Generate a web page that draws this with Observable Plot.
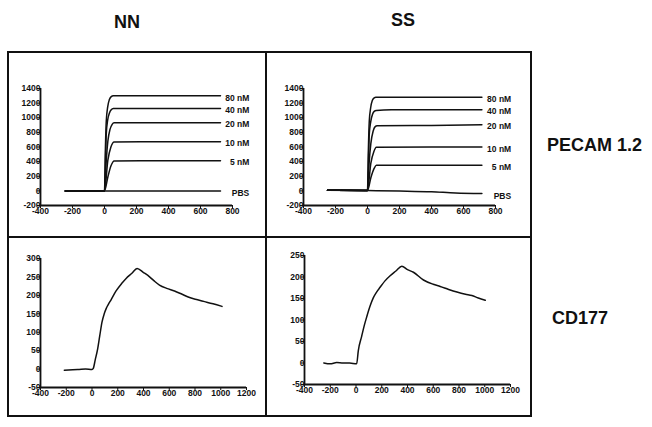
<!DOCTYPE html>
<html><head><meta charset="utf-8">
<script src="https://cdn.jsdelivr.net/npm/d3@7"></script>
<script src="https://cdn.jsdelivr.net/npm/@observablehq/plot@0.6"></script>
<style>
html,body{margin:0;padding:0;background:#fff;}
body{width:652px;height:427px;position:relative;overflow:hidden;font-family:"Liberation Sans",Arial,sans-serif;}
.cell{position:absolute;}
.cell svg{overflow:visible;display:block;}
.title{position:absolute;font-weight:bold;font-size:18px;line-height:1;white-space:nowrap;color:#111;}
.ctr{transform:translate(-50%,-50%);}
.vctr{transform:translate(0,-50%);}
.ln{position:absolute;background:#111;}
</style></head><body>
<div class="title ctr" style="left:127px;top:22px">NN</div>
<div class="title ctr" style="left:403px;top:20px">SS</div>
<div class="title vctr" style="left:547px;top:145px">PECAM 1.2</div>
<div class="title vctr" style="left:552px;top:318px">CD177</div>
<div class="ln" style="left:7px;top:51px;width:525px;height:2px"></div>
<div class="ln" style="left:7px;top:236px;width:525px;height:2px"></div>
<div class="ln" style="left:7px;top:415px;width:525px;height:2px"></div>
<div class="ln" style="left:7px;top:51px;width:2px;height:366px"></div>
<div class="ln" style="left:265px;top:51px;width:2px;height:366px"></div>
<div class="ln" style="left:530px;top:51px;width:2px;height:366px"></div>
<div id="tl" class="cell" style="left:8px;top:52px"></div>
<div id="tr" class="cell" style="left:266px;top:52px"></div>
<div id="bl" class="cell" style="left:8px;top:238px"></div>
<div id="br" class="cell" style="left:266px;top:238px"></div>
<script>
// ---- Data (time in s, response in RU) ----
const concLabels = ["80 nM", "40 nM", "20 nM", "10 nM", "5 nM", "PBS"];

// NN, PECAM 1.2
const nn80 = [[-245,0],[0,0],[5,520],[11,950],[20,1150],[30,1245],[42,1288],[55,1300],[200,1302],[400,1300],[600,1301],[725,1300]];
const nn40 = [[-245,0],[0,0],[11,780],[20,970],[31,1065],[42,1108],[55,1125],[300,1128],[725,1128]];
const nn20 = [[-245,0],[0,0],[10,380],[21,680],[35,845],[48,910],[60,930],[400,932],[725,932]];
const nn10 = [[-245,0],[0,0],[21,420],[40,600],[60,670],[400,671],[725,672]];
const nn5  = [[-245,0],[0,0],[21,190],[40,340],[60,410],[400,411],[725,412]];
const nnPBS = [[-245,0],[0,0],[300,-1],[725,-3]];
const nnLabelY = [1300, 1128, 932, 672, 412, 0];

// SS, PECAM 1.2
const ss80 = [[-250,10],[0,5],[5,520],[11,950],[20,1140],[30,1235],[42,1272],[52,1280],[400,1281],[715,1282]];
const ss40 = [[-250,10],[0,5],[11,770],[20,945],[31,1045],[42,1088],[55,1100],[150,1108],[715,1110]];
const ss20 = [[-250,10],[0,5],[10,380],[21,650],[35,815],[48,878],[60,890],[400,895],[715,905]];
const ss10 = [[-250,10],[0,5],[21,380],[40,540],[55,598],[400,600],[715,600]];
const ss5  = [[-250,10],[0,5],[21,180],[40,300],[55,350],[400,351],[715,352]];
const ssPBS = [[-250,10],[0,5],[200,-2],[400,-12],[550,-28],[715,-35]];
const ssLabelY = [1282, 1110, 905, 600, 352, -40];

// NN, CD177
const nnCD = [[-215,-3],[-150,-2],[-100,-1],[-50,0],[0,-1],[10,2],[25,25],[44,55],[60,90],[78,128],[95,150],[110,164],[128,176],[148,188],[187,212],[230,232],[265,246],[310,260],[350,273],[400,262],[434,254],[480,240],[524,228],[580,219],[641,212],[700,203],[758,194],[820,188],[875,183],[940,177],[1010,170]];
// SS, CD177
const ssCD = [[-250,0],[-200,-2],[-150,1],[-100,0],[-50,0],[5,-2],[18,29],[44,62],[65,88],[83,107],[110,133],[135,152],[160,165],[187,176],[225,191],[265,203],[310,214],[356,225],[400,217],[446,211],[524,193],[600,183],[654,178],[720,171],[784,165],[850,160],[900,157],[950,151],[1004,146]];

// Axis ticks
const xTicksTop = [-400,-200,0,200,400,600,800];
const yTicksTop = [-200,0,200,400,600,800,1000,1200,1400];
const xTicksBottom = [-400,-200,0,200,400,600,800,1000,1200];
const yTicksBL = [-50,0,50,100,150,200,250,300];
const yTicksBR = [-50,0,50,100,150,200,250];

function panel(o) {
  const fmt = d => String(d);
  const marks = [
    Plot.axisX({ticks: o.xTicks, tickSize: 3, tickPadding: -1, tickFormat: fmt, label: null, fontSize: 8.5, fontWeight: "bold"}),
    Plot.axisY({ticks: o.yTicks, tickSize: 3, tickPadding: -3, tickFormat: fmt, label: null, fontSize: 8.5, fontWeight: "bold"}),
    Plot.ruleX([o.xDomain[0]], {stroke: "#111", strokeWidth: 1.8}),
    Plot.ruleY([o.yDomain[0]], {stroke: "#111", strokeWidth: 1.8})
  ];
  for (const s of o.series) {
    marks.push(Plot.line(s, {x: d => d[0], y: d => d[1], stroke: "#111", strokeWidth: 1.5, curve: "monotone-x"}));
  }
  if (o.labels) {
    marks.push(Plot.text(o.labels.map((t, i) => ({t, y: o.labelY[i]})), {
      x: o.labelX, y: "y", text: "t", textAnchor: "end", dy: 2,
      fontSize: 8.5, fontWeight: "bold", fill: "#111"
    }));
  }
  return Plot.plot({
    width: o.width, height: o.height,
    marginLeft: o.ml, marginRight: o.mr, marginTop: o.mt, marginBottom: o.mb,
    style: {fontFamily: "Liberation Sans, Arial, sans-serif", background: "transparent", color: "#111"},
    x: {domain: o.xDomain},
    y: {domain: o.yDomain},
    marks
  });
}

document.getElementById("tl").append(panel({
  width: 258, height: 186, ml: 32, mr: 34, mt: 36, mb: 33,
  xDomain: [-400, 800], yDomain: [-200, 1400], xTicks: xTicksTop, yTicks: yTicksTop,
  series: [nn80, nn40, nn20, nn10, nn5, nnPBS], labels: concLabels, labelY: nnLabelY, labelX: 905
}));
document.getElementById("tr").append(panel({
  width: 265, height: 186, ml: 37, mr: 36, mt: 36, mb: 33,
  xDomain: [-400, 800], yDomain: [-200, 1400], xTicks: xTicksTop, yTicks: yTicksTop,
  series: [ss80, ss40, ss20, ss10, ss5, ssPBS], labels: concLabels, labelY: ssLabelY, labelX: 898
}));
document.getElementById("bl").append(panel({
  width: 258, height: 179, ml: 32, mr: 20, mt: 20, mb: 30,
  xDomain: [-400, 1200], yDomain: [-50, 300], xTicks: xTicksBottom, yTicks: yTicksBL,
  series: [nnCD]
}));
document.getElementById("br").append(panel({
  width: 265, height: 179, ml: 38, mr: 21, mt: 17, mb: 33,
  xDomain: [-400, 1200], yDomain: [-50, 250], xTicks: xTicksBottom, yTicks: yTicksBR,
  series: [ssCD]
}));
</script>
</body></html>
